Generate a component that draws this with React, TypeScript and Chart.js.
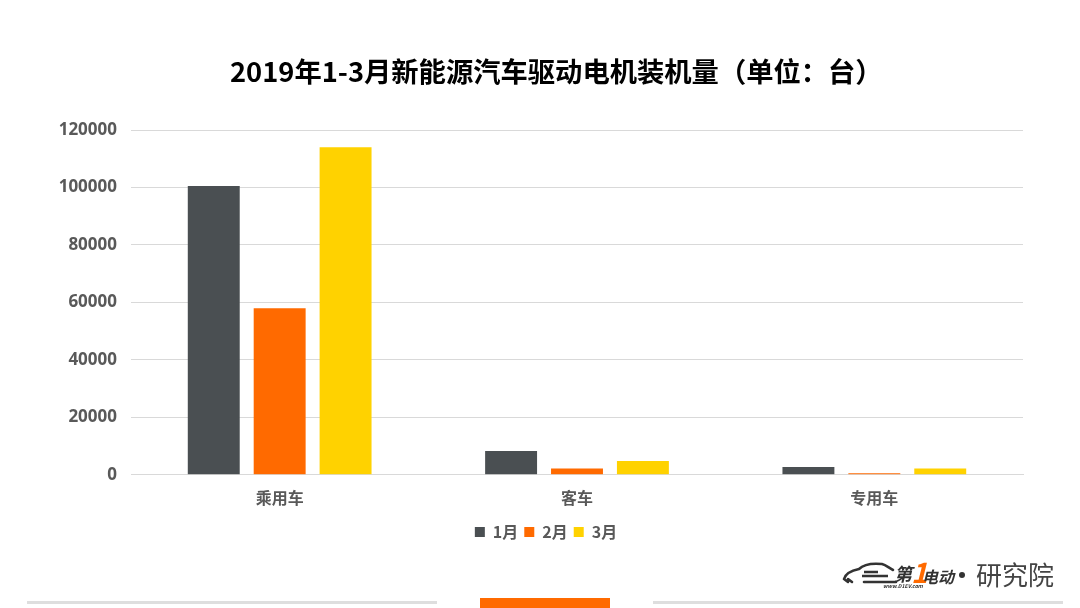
import React, { useEffect, useRef } from 'react';
import { Chart, ChartConfiguration, registerables } from 'chart.js';

Chart.register(...registerables);

const categories = ['乘用车', '客车', '专用车'];
const yTicks = [0, 20000, 40000, 60000, 80000, 100000, 120000];
const janValues = [100500, 8300, 2700];
const febValues = [58000, 2200, 500];
const marValues = [114000, 4800, 2200];
const titleText = '2019年1-3月新能源汽车驱动电机装机量（单位：台）';

const FONT = '"Noto Sans CJK SC", "Noto Sans", sans-serif';

const Logo: React.FC = () => (
    <svg width="220" height="40" viewBox="0 0 220 40" style={{ position: 'absolute', left: 840, top: 554 }}>
        {/* car outline */}
        <path
            d="M4 25 C6 18 14 16 19 15 C24 10 32 9 42 10 C46 11 49 14 53 16 M8 25 L12 28 M24 28 L44 28 L56 28 M4 25 L8 28"
            fill="none"
            stroke="#333"
            strokeWidth="2.6"
            strokeLinecap="round"
            strokeLinejoin="round"
        />
        <path d="M24 18 L38 18 M22 22 L48 22" stroke="#333" strokeWidth="2.6" />
        <text x="54" y="27" fontFamily={FONT} fontWeight="700" fontStyle="italic" fontSize="18" fill="#333">第</text>
        <text x="71" y="29" fontFamily={FONT} fontWeight="700" fontStyle="italic" fontSize="28" fill="#ff6a00">1</text>
        <text x="82" y="29" fontFamily={FONT} fontWeight="700" fontStyle="italic" fontSize="16" fill="#333">电动</text>
        <text x="43" y="34" fontFamily={FONT} fontWeight="700" fontStyle="italic" fontSize="5.2" fill="#333">www.D1EV.com</text>
        <circle cx="122" cy="21" r="3" fill="#333" />
        <text x="136" y="31" fontFamily={FONT} fontWeight="400" fontSize="26" fill="#444">研究院</text>
    </svg>
);

const App: React.FC = () => {
    const canvasRef = useRef<HTMLCanvasElement>(null);

    useEffect(() => {
        if (!canvasRef.current) return;

        const config: ChartConfiguration = {
            type: 'bar',
            data: {
                labels: categories,
                datasets: [
                    { label: '1月', data: janValues, backgroundColor: '#4a4f52' },
                    { label: '2月', data: febValues, backgroundColor: '#ff6a00' },
                    { label: '3月', data: marValues, backgroundColor: '#ffd200' },
                ],
            },
            options: {
                responsive: false,
                animation: false,
                devicePixelRatio: 1,
                layout: { padding: { left: 58, right: 46, top: 130, bottom: 58 } },
                datasets: { bar: { categoryPercentage: 0.665, barPercentage: 0.788 } },
                plugins: {
                    title: { display: false },
                    legend: {
                        position: 'bottom',
                        labels: {
                            boxWidth: 10,
                            boxHeight: 10,
                            color: '#595959',
                            padding: 6,
                            font: { family: FONT, size: 16, weight: 'bold' },
                        },
                    },
                    tooltip: { enabled: false },
                },
                scales: {
                    x: {
                        afterFit: (scale) => {
                            scale.height += 4;
                        },
                        grid: { display: false },
                        border: { color: '#d9d9d9' },
                        ticks: {
                            color: '#595959',
                            padding: 6,
                            font: { family: FONT, size: 16, weight: 'bold' },
                        },
                    },
                    y: {
                        min: 0,
                        max: 120000,
                        afterFit: (scale) => {
                            scale.width = 73;
                        },
                        afterBuildTicks: (scale) => {
                            scale.ticks = yTicks.map((value) => ({ value }));
                        },
                        grid: { color: '#d9d9d9', drawTicks: false },
                        border: { display: false },
                        ticks: {
                            color: '#595959',
                            padding: 14,
                            callback: (value) => String(value),
                            font: { family: '"Open Sans", sans-serif', size: 17, weight: 'bold' },
                        },
                    },
                    // empty axis, only keeps the plot's right edge where the legend centre needs it
                    yRight: {
                        axis: 'y',
                        position: 'right',
                        afterFit: (scale) => {
                            scale.width = 11;
                        },
                        grid: { display: false },
                        border: { display: false },
                        ticks: { display: false },
                    },
                },
            },
        };

        const chart = new Chart(canvasRef.current, config);
        return () => chart.destroy();
    }, []);

    return (
        <div style={{ position: 'absolute', left: 0, top: 0, width: 1080, height: 608, background: '#fff', overflow: 'hidden' }}>
            <canvas ref={canvasRef} width={1080} height={608} style={{ display: 'block' }} />
            <div
                style={{
                    position: 'absolute',
                    left: 230,
                    top: 50,
                    whiteSpace: 'nowrap',
                    fontFamily: FONT,
                    fontWeight: 700,
                    fontSize: 27.3,
                    lineHeight: '40px',
                    color: '#000',
                }}
            >
                {titleText}
            </div>
            <Logo />
            <div style={{ position: 'absolute', left: 27, top: 601, width: 410, height: 3, background: '#dedede' }} />
            <div style={{ position: 'absolute', left: 653, top: 601, width: 410, height: 3, background: '#dedede' }} />
            <div style={{ position: 'absolute', left: 480, top: 598, width: 130, height: 10, background: '#ff6a00' }} />
        </div>
    );
};

export default App;
